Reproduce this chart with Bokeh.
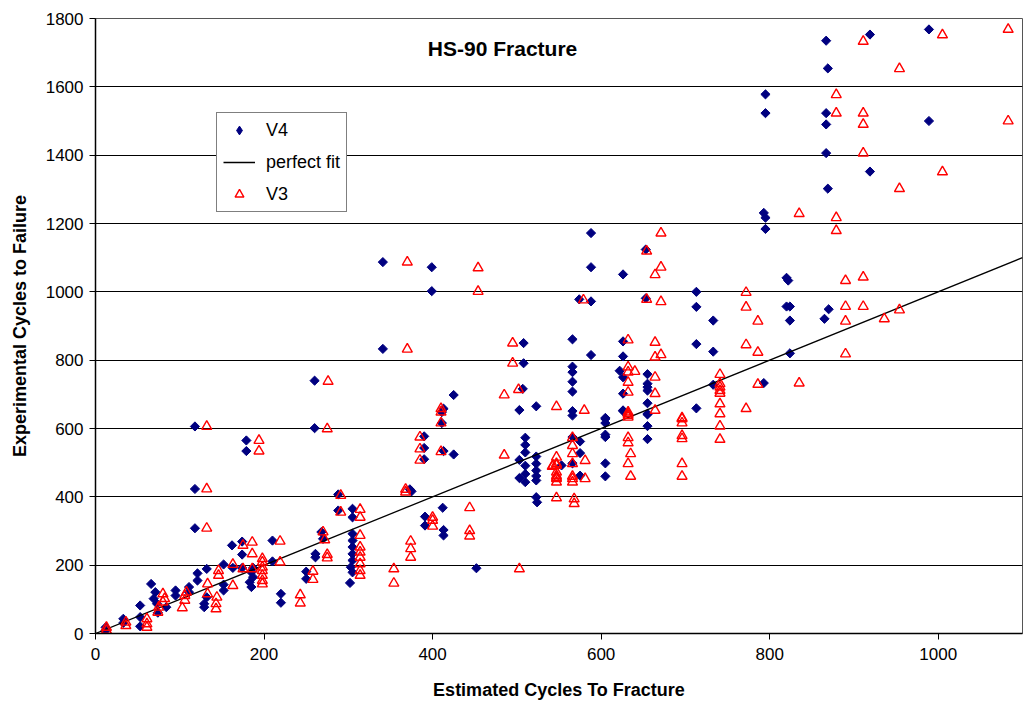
from math import pi
from bokeh.plotting import figure
from bokeh.models import Legend, LegendItem, Label, FixedTicker, Range1d
from bokeh.embed import file_html
from bokeh.resources import INLINE

# ---- data ----
v4_x = [867, 919, 989, 869, 795, 795, 867, 867, 989, 867, 919, 869, 793, 795, 795,
        341, 399, 399, 341, 508, 508, 507, 523, 503, 425, 413, 260,
        588, 653, 588, 626, 820, 822, 713, 574, 588, 653, 713, 820, 824, 733, 824,
        566, 626, 713, 733, 588, 626, 824,
        566, 566, 566, 566, 622, 626, 626, 626, 655, 655, 655, 655, 655, 655,
        566, 566, 605, 713, 733, 793, 870, 865,
        411, 411, 390, 390, 390, 413, 425,
        510, 510, 510, 503, 510, 510, 503, 510,
        523, 523, 523, 523, 523, 523, 524,
        373, 375, 288, 288, 305, 305, 412, 391, 391, 413, 413, 452,
        305, 305, 305, 305, 305, 303, 305, 302, 268, 270,
        605, 605, 626, 655, 655, 655,
        605, 605, 566, 575, 575, 566, 553, 605, 575, 605,
        118, 260, 179, 179, 118, 118, 162, 174, 174, 210, 210, 152, 174, 187,
        185, 187, 183, 185, 163, 121, 121, 132, 132, 129, 129, 220, 220, 261, 261,
        250, 250, 66, 71, 69, 73, 53, 53, 53, 33, 33, 12, 12, 95, 95, 84, 74,
        111, 111, 152, 152]
v4_y = [1735, 1753, 1768, 1654, 1578, 1523, 1523, 1490, 1500, 1406, 1352, 1302, 1231, 1217, 1184,
        1087, 1072, 1002, 833, 850, 791, 716, 665, 654, 698, 658, 740,
        1172, 1124, 1072, 1051, 1041, 1033, 1000, 978, 972, 981, 956, 957, 957, 916, 916,
        861, 855, 847, 825, 815, 811, 820,
        781, 765, 737, 708, 769, 750, 702, 653, 759, 731, 721, 711, 674, 643,
        651, 638, 631, 659, 728, 733, 949, 921,
        648, 616, 577, 543, 510, 534, 524,
        573, 552, 530, 508, 491, 467, 455, 443,
        518, 497, 477, 461, 448, 399, 384,
        422, 416, 407, 360, 365, 340, 368, 342, 316, 303, 287, 191,
        292, 272, 253, 233, 214, 194, 179, 148, 297, 277,
        628, 616, 651, 641, 607, 569,
        582, 575, 575, 562, 528, 498, 492, 498, 462, 460,
        606, 601, 565, 534, 423, 308, 258, 269, 231, 272, 211, 202, 192, 192,
        179, 165, 150, 136, 192, 176, 155, 189, 106, 87, 77, 116, 90, 233, 223,
        181, 160, 145, 121, 102, 87, 82, 48, 21, 43, 31, 18, 9, 126, 111, 77, 61,
        136, 121, 143, 126]

v3_x = [911, 1005, 1083, 954, 879, 879, 911, 911, 1083, 911, 1005, 954, 835, 879, 879,
        370, 454, 454, 370, 495, 495, 502, 485, 547, 410, 276,
        671, 654, 671, 664, 772, 579, 654, 671, 772, 786, 632, 664, 772, 786, 664, 671,
        632, 632, 640, 632, 632, 664, 664, 664, 741, 741, 741, 741, 741, 741, 741,
        772, 786, 580, 632, 632, 696,
        890, 911, 890, 911, 954, 890, 936, 890, 835,
        275, 410, 410, 385, 385, 385, 410, 485, 547, 542, 547, 547, 547, 547, 547,
        368, 368, 291, 291, 314, 314, 400, 400, 400, 444, 444, 444, 374, 374, 374,
        354, 354, 503, 314, 314, 314, 314, 314, 314, 314, 270, 275, 275,
        632, 632, 696, 696, 741, 741, 566, 566, 566, 632, 632, 635, 632, 635,
        696, 696, 696, 696, 581, 581, 547, 543, 547, 547, 566, 566, 566, 566, 568, 568,
        132, 194, 194, 132, 132, 272, 175, 186, 186, 219, 219, 163, 175, 186,
        198, 198, 198, 198, 198, 198, 198, 146, 146, 163, 133, 133, 144, 143, 143,
        243, 243, 258, 258, 103, 108, 106, 106, 80, 82, 80, 75, 74, 61, 61, 61,
        36, 36, 13, 13]
v3_y = [1733, 1752, 1768, 1653, 1577, 1523, 1523, 1490, 1500, 1406, 1351, 1302, 1229, 1217, 1179,
        1087, 1070, 1001, 832, 850, 791, 714, 698, 664, 658, 738,
        1172, 1119, 1072, 1050, 998, 976, 978, 971, 955, 914, 859, 852, 845, 823, 809, 816,
        780, 765, 767, 735, 706, 750, 702, 653, 758, 731, 721, 711, 703, 672, 643,
        658, 729, 653, 648, 638, 631,
        1033, 1043, 957, 957, 947, 914, 921, 818, 733,
        599, 648, 616, 575, 540, 507, 532, 522, 516, 489, 497, 472, 457, 443, 397,
        422, 414, 404, 355, 363, 340, 340, 331, 314, 368, 301, 285, 270, 248, 223,
        189, 147, 189, 287, 253, 238, 223, 204, 184, 170, 297, 231, 221,
        643, 633, 628, 616, 607, 568, 573, 550, 526, 573, 558, 526, 497, 460,
        579, 570, 497, 460, 506, 453, 492, 492, 462, 453, 497, 460, 453, 443, 394, 380,
        606, 565, 534, 423, 308, 274, 258, 267, 233, 270, 209, 202, 189, 189,
        219, 209, 194, 184, 170, 155, 145, 184, 170, 140, 145, 116, 106, 87, 72,
        113, 89, 182, 158, 75, 121, 111, 97, 116, 102, 92, 77, 62, 43, 28, 18,
        33, 23, 18, 9]

fit_x = [0, 1100]
fit_y = [0, 1100]

x_ticks = [0, 200, 400, 600, 800, 1000]
y_ticks = [0, 200, 400, 600, 800, 1000, 1200, 1400, 1600, 1800]

FONT = "Liberation Sans"
NAVY = "#000080"
RED = "#FF0000"

p = figure(width=1031, height=704, x_range=Range1d(0, 1100), y_range=Range1d(0, 1800),
           output_backend="svg", toolbar_location=None, title=None,
           min_border_left=95, min_border_right=9, min_border_top=18, min_border_bottom=71)
p.background_fill_color = "white"
p.border_fill_color = "white"
p.outline_line_color = "#555555"
p.outline_line_width = 1

p.xgrid.visible = False
p.ygrid.ticker = FixedTicker(ticks=y_ticks)
p.ygrid.grid_line_color = "black"
p.ygrid.grid_line_width = 1

for ax, ticks in ((p.xaxis[0], x_ticks), (p.yaxis[0], y_ticks)):
    ax.ticker = FixedTicker(ticks=ticks)
    ax.axis_line_color = "black"
    ax.axis_line_width = 1.5
    ax.major_tick_line_color = "black"
    ax.major_tick_out = 6
    ax.major_tick_in = 0
    ax.minor_tick_line_color = None
    ax.major_label_text_font = FONT
    ax.major_label_text_font_size = "17px"
    ax.major_label_text_color = "black"
    ax.axis_label_text_font = FONT
    ax.axis_label_text_font_size = "18px"
    ax.axis_label_text_font_style = "bold"
    ax.axis_label_text_color = "black"

p.xaxis.axis_label = "Estimated Cycles To Fracture"
p.yaxis.axis_label = "Experimental Cycles to Failure"
p.xaxis.major_label_standoff = 8
p.yaxis.major_label_standoff = 6
p.xaxis.axis_label_standoff = 17
p.yaxis.axis_label_standoff = 13

r4 = p.scatter(v4_x, v4_y, marker="square", angle=pi / 4, size=6.5,
               fill_color=NAVY, line_color=NAVY)
rl = p.line(fit_x, fit_y, line_color="black", line_width=1.3)
r3 = p.scatter(v3_x, v3_y, marker="triangle", size=10, fill_color=None,
               line_color=RED, line_width=1.4)

# legend-only glyph for the diamond symbol (a single NaN row, never drawn in the plot)
r4_leg = p.scatter(x=[float("nan")], y=[float("nan")], marker="diamond", size=11,
                   fill_color=NAVY, line_color=NAVY)

legend = Legend(items=[LegendItem(label="V4", renderers=[r4_leg]),
                       LegendItem(label="perfect fit", renderers=[rl]),
                       LegendItem(label="V3", renderers=[r3])],
                location=(121, 421), margin=0, padding=6, spacing=10,
                glyph_width=32, glyph_height=22, label_height=22, label_standoff=11,
                label_text_font=FONT, label_text_font_size="18px",
                label_text_color="black",
                border_line_color="black", border_line_width=1,
                background_fill_color="white", background_fill_alpha=1)
p.add_layout(legend)

p.add_layout(Label(x=483, y=1712, text="HS-90 Fracture", text_align="center",
                   text_baseline="middle", text_font=FONT, text_font_size="21px",
                   text_font_style="bold", text_color="black"))

open("out.html", "w").write(file_html(p, INLINE))
